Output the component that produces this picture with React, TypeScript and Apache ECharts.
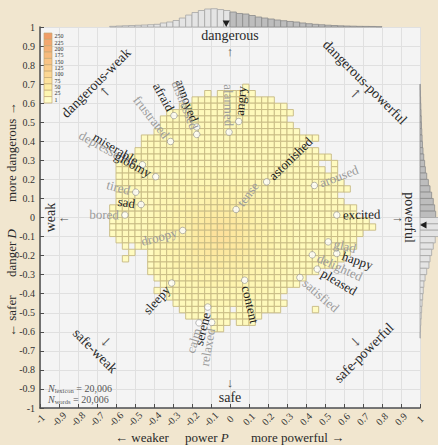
import React, { useEffect, useRef } from 'react';
import * as echarts from 'echarts';

const FONT = "'Liberation Serif', 'DejaVu Serif', serif";

// ---- 2D histogram (60 x 60 bins on [-1,1]^2, bin width 1/30; row 0 = top, col 0 = left)
const BIN = 1 / 30;
const FIRST_ROW = 9;
const ROW_START = [32, 26, 24, 22, 20, 19, 19, 18, 16, 16, 15, 14, 12, 12, 12, 12, 12, 12, 12, 11, 11, 11, 11, 11, 12, 13, 14, 13, 17, 17, 18, 19, 18, 20, 21, 22, 23, 27, 27];
// run-length rows: level char (or '.') optionally followed by *count
const ROW_RUNS = [
  '2',
  '2 . 2 3*4 2',
  '2 3*11 2',
  '2 3*15 2',
  '2 3*18 2',
  '2 3*18 2',
  '2 3*19 2',
  '2 3*21 2',
  '2 3*26 2',
  '2 3*24 2',
  '2 3*27 2',
  '2 3*30 2',
  '2 3*30 2 .*2 2',
  '2 3*12 4*7 3*12 2 . 2',
  '2 3*10 4*11 3*12 2',
  '2 3*8 4*15 3*11 2',
  '2 3*7 4*5 5*7 4*5 3*11 2',
  '2 3*6 4*4 5*11 4*4 3*8 2',
  '2 3*5 4*4 5*4 6*5 5*4 4*4 3*8 2',
  '2 3*6 4*3 5*3 6*4 7 6*4 5*3 4*3 3*10 2',
  '2 3*6 4*3 5*2 6*2 7*7 6*2 5*2 4*3 3*10 2',
  '2 3*5 4*3 5*3 6 7*2 8*5 7*2 6 5*3 4*3 3*11 2',
  '2 3*5 4*3 5*2 6*2 7 8*3 9 8*3 7 6*2 5*2 4*3 3*12 2',
  '2 3*5 4*3 5*2 6*2 7 8*2 9*3 8*2 7 6*2 5*2 4*3 3*10 2',
  '2 3*4 4*3 5*2 6*2 7 8*2 9*3 8*2 7 6*2 5*2 4*3 3*9 2',
  '2 . 2 3 4*3 5*2 6*2 7 8*3 9 8*3 7 6*2 5*2 4*3 3*9 2',
  '2 .*2 2 4*2 5*3 6 7*2 8*5 7*2 6 5*3 4*3 3*8 2',
  '2 .*3 2 4*3 5*2 6*2 7*7 6*2 5*2 4*3 3*8 2',
  '2 4*3 5*3 6*4 7 6*4 5*3 4*3 3*7 2',
  '2 4*4 5*4 6*5 5*4 4*4 3*4 2',
  '2 4*4 5*11 4*4 3*3 2',
  '2 4*5 5*7 4*5 3*3 2',
  '2 . 2 4*15 3*2 2',
  '2 3*2 4*11 3*3 2',
  '2 3*3 4*7 3*6 2',
  '2 3*2 2 . 2 3 2 . 2 3*5 2 .*5 2',
  '2 3 2 . 2 3*6 2',
  '2 3 2 . 2 3 2',
  '2*2',
];
const LEVEL_COUNT = [0, 4, 9, 15, 22, 30, 40, 50, 62, 76];

const COLORBAR_TICKS = [1, 25, 50, 75, 100, 125, 150, 175, 200, 225, 250];
const COLOR_STOPS = ['#fffdc8', '#fef6b1', '#fdeca4', '#fde29c', '#fcd794', '#fbcd8c', '#f9c384', '#f7ba7d', '#f5b076', '#f3a76f', '#f09d68'];

// ---- marginal histograms
const TOP_FIRST_COL = 11;
const TOP_HIST = [45, 65, 85, 100, 115, 135, 155, 180, 270, 335, 435, 600, 800, 970, 1105, 1205, 1225, 1170, 1105, 1005, 905, 870, 770, 670, 600, 535, 470, 420, 370, 335, 270, 220, 180, 150, 120, 100, 80, 65, 55, 45, 40, 35, 20];
const RIGHT_FIRST_ROW = 9;
const RIGHT_HIST = [15, 25, 40, 55, 70, 85, 100, 120, 140, 165, 200, 250, 310, 360, 450, 560, 670, 780, 890, 980, 1050, 1250, 1350, 1250, 1020, 890, 780, 670, 600, 450, 340, 260, 220, 180, 140, 110, 80, 55, 35, 20];
const TOP_AXIS_MAX = 1809;
const RIGHT_AXIS_MAX = 1206;
const MEAN_P = -0.02;
const MEAN_D = -0.04;

// ---- words
const WORDS = ['afraid', 'annoyed', 'distressed', 'frustrated', 'alarmed', 'angry', 'miserable', 'depressed', 'gloomy', 'tired', 'sad', 'bored', 'droopy', 'tense', 'astonished', 'aroused', 'excited', 'glad', 'happy', 'delighted', 'pleased', 'satisfied', 'content', 'sleepy', 'serene', 'calm', 'relaxed'];
const WORD_P = [-0.295, -0.175, -0.175, -0.313, -0.005, 0.046, -0.461, -0.526, -0.391, -0.496, -0.468, -0.553, -0.249, 0.032, 0.193, 0.444, 0.562, 0.517, 0.562, 0.433, 0.459, 0.368, 0.077, -0.307, -0.117, -0.163, -0.096];
const WORD_D = [0.535, 0.475, 0.436, 0.399, 0.448, 0.504, 0.277, 0.292, 0.214, 0.133, 0.068, 0.013, -0.068, 0.042, 0.187, 0.168, 0.013, -0.128, -0.189, -0.196, -0.271, -0.315, -0.329, -0.344, -0.47, -0.553, -0.551];
const WORD_DARK = [true, true, false, false, false, true, true, false, true, false, true, false, false, false, true, false, true, false, true, false, true, false, true, true, true, false, false];

const DIR_TEXT = ['dangerous', 'safe', 'weak', 'powerful', 'dangerous-weak', 'dangerous-powerful', 'safe-weak', 'safe-powerful'];
const DIR_P = [0, 0, -0.947, 0.947, -0.705, 0.71, -0.71, 0.705];
const DIR_D = [0.955, -0.945, 0, 0, 0.707, 0.71, -0.7, -0.71];
const DIR_ROT = [0, 0, 90, -90, 45, -45, -45, 45];
const ARROW_TEXT = ['↑', '↓', '←', '→', '↖', '↗', '↙', '↘'];
const ARROW_P = [0, 0, -0.874, 0.88, -0.658, 0.66, -0.653, 0.66];
const ARROW_D = [0.87, -0.865, 0, 0, 0.66, 0.65, -0.651, -0.65];

const N_LEXICON = '20,006';
const N_WORDS = '20,006';

function buildCells(): number[][] {
  const cells: number[][] = [];
  ROW_RUNS.forEach((runs, r) => {
    const row = FIRST_ROW + r;
    let col = ROW_START[r];
    runs.split(' ').forEach((tok) => {
      const parts = tok.split('*');
      const n = parts[1] ? parseInt(parts[1], 10) : 1;
      for (let k = 0; k < n; k++) {
        if (parts[0] !== '.') {
          cells.push([-1 + (col + 0.5) * BIN, 1 - (row + 0.5) * BIN, LEVEL_COUNT[parseInt(parts[0], 10)]]);
        }
        col++;
      }
    });
  });
  return cells;
}

const fmt = (v: number) => String(Math.round(v * 10) / 10);
const font = (size: number, style = 'normal') => `${style} normal ${size}px ${FONT}`;

function buildOption(): any {
  const cells = buildCells();
  const topData = TOP_HIST.map((v, i) => [-1 + (TOP_FIRST_COL + i + 0.5) * BIN, v]);
  const rightData = RIGHT_HIST.map((v, i) => [v, 1 - (RIGHT_FIRST_ROW + i + 0.5) * BIN]);
  return {
    animation: false,
    backgroundColor: '#f1e6cf',
    textStyle: { fontFamily: FONT },
    grid: [
      { left: 40, right: 18, top: 27, bottom: 37, show: true, backgroundColor: '#f4f4f4', borderWidth: 0 },
      { left: 40, right: 18, top: 0, height: 27 },
      { left: 420, right: 0, top: 27, bottom: 37 },
    ],
    xAxis: [
      {
        gridIndex: 0, type: 'value', min: -1, max: 1, interval: 0.1,
        axisLine: { onZero: false, lineStyle: { color: '#4d4d4d', width: 1.5 } },
        axisTick: { inside: true, length: 4, lineStyle: { color: '#4d4d4d' } },
        axisLabel: { rotate: 45, fontSize: 10, fontFamily: FONT, color: '#333', margin: 11, align: 'center', verticalAlign: 'middle', formatter: fmt },
        splitLine: { show: true, lineStyle: { color: '#e0e0e0', width: 1 } },
      },
      { gridIndex: 1, type: 'value', min: -1, max: 1, show: false },
      { gridIndex: 2, type: 'value', min: 0, max: RIGHT_AXIS_MAX, show: false },
    ],
    yAxis: [
      {
        gridIndex: 0, type: 'value', min: -1, max: 1, interval: 0.1,
        axisLine: { show: true, onZero: false, lineStyle: { color: '#4d4d4d', width: 1.5 } },
        axisTick: { show: true, inside: true, length: 4, lineStyle: { color: '#4d4d4d' } },
        axisLabel: { fontSize: 10, fontFamily: FONT, color: '#333', margin: 5, formatter: fmt },
        splitLine: { show: true, lineStyle: { color: '#e0e0e0', width: 1 } },
      },
      { gridIndex: 1, type: 'value', min: 0, max: TOP_AXIS_MAX, show: false },
      { gridIndex: 2, type: 'value', min: -1, max: 1, show: false },
    ],
    visualMap: {
      type: 'continuous', show: false, min: 1, max: 250, dimension: 2, seriesIndex: 0,
      inRange: { color: COLOR_STOPS },
    },
    series: [
      {
        type: 'custom', xAxisIndex: 0, yAxisIndex: 0, data: cells, encode: { x: 0, y: 1 }, z: 2,
        renderItem: (params: any, api: any) => {
          const x = api.value(0);
          const y = api.value(1);
          const p0 = api.coord([x - BIN / 2, y + BIN / 2]);
          const p1 = api.coord([x + BIN / 2, y - BIN / 2]);
          return {
            type: 'rect',
            shape: { x: p0[0], y: p0[1], width: p1[0] - p0[0], height: p1[1] - p0[1] },
            style: { fill: api.visual('color'), stroke: '#c6b982', lineWidth: 0.9 },
          };
        },
      },
      {
        type: 'custom', xAxisIndex: 1, yAxisIndex: 1, data: topData, encode: { x: 0, y: 1 },
        renderItem: (params: any, api: any) => {
          const x = api.value(0);
          const v = api.value(1);
          const p0 = api.coord([x - BIN / 2, v]);
          const p1 = api.coord([x + BIN / 2, 0]);
          const dark = x > 0;
          return {
            type: 'rect',
            shape: { x: p0[0], y: p0[1], width: p1[0] - p0[0], height: p1[1] - p0[1] },
            style: { fill: dark ? '#bdbdbd' : '#e4e4e4', stroke: dark ? '#8c8c8c' : '#a6a6a6', lineWidth: 0.8 },
          };
        },
      },
      {
        type: 'custom', xAxisIndex: 2, yAxisIndex: 2, data: rightData, encode: { x: 0, y: 1 },
        renderItem: (params: any, api: any) => {
          const v = api.value(0);
          const y = api.value(1);
          const p0 = api.coord([0, y + BIN / 2]);
          const p1 = api.coord([v, y - BIN / 2]);
          const dark = y > 0;
          return {
            type: 'rect',
            shape: { x: p0[0], y: p0[1], width: p1[0] - p0[0], height: p1[1] - p0[1] },
            style: { fill: dark ? '#bdbdbd' : '#e4e4e4', stroke: dark ? '#8c8c8c' : '#a6a6a6', lineWidth: 0.8 },
          };
        },
      },
      {
        type: 'scatter', xAxisIndex: 0, yAxisIndex: 0, z: 5,
        data: WORDS.map((w, i) => ({ name: w, value: [WORD_P[i], WORD_D[i]] })),
        symbol: 'circle', symbolSize: 6.5,
        itemStyle: { color: '#ffffff', borderColor: '#8f8f8f', borderWidth: 0.8 },
      },
    ],
  };
}

function buildGraphic(chart: any): any[] {
  const els: any[] = [];
  const toPx = (p: number, d: number) => chart.convertToPixel({ gridIndex: 0 }, [p, d]) as number[];
  const c = toPx(0, 0);

  WORDS.forEach((w, i) => {
    const p = toPx(WORD_P[i], WORD_D[i]);
    const th = Math.atan2(c[1] - p[1], p[0] - c[0]);
    const right = WORD_P[i] >= 0;
    const rot = right ? th : th > 0 ? th - Math.PI : th + Math.PI;
    const gap = 6;
    els.push({
      type: 'text', x: p[0] + gap * Math.cos(th), y: p[1] - gap * Math.sin(th), rotation: rot, z: 60,
      style: {
        text: w, font: font(13), fill: WORD_DARK[i] ? '#1c1c1c' : '#9b9b9b',
        align: right ? 'left' : 'right', verticalAlign: 'middle',
      },
    });
  });

  DIR_TEXT.forEach((t, i) => {
    const p = toPx(DIR_P[i], DIR_D[i]);
    els.push({
      type: 'text', x: p[0], y: p[1], rotation: (DIR_ROT[i] * Math.PI) / 180, z: 60,
      style: { text: t, font: font(14), fill: '#2a2a2a', align: 'center', verticalAlign: 'middle' },
    });
  });
  ARROW_TEXT.forEach((t, i) => {
    const p = toPx(ARROW_P[i], ARROW_D[i]);
    els.push({
      type: 'text', x: p[0], y: p[1], z: 60,
      style: { text: t, font: font(13), fill: '#555', align: 'center', verticalAlign: 'middle' },
    });
  });

  // mean markers on the marginal histograms
  const t = toPx(MEAN_P, 1);
  els.push({ type: 'polygon', z: 60, shape: { points: [[t[0] - 3.5, t[1] - 6.5], [t[0] + 3.5, t[1] - 6.5], [t[0], t[1]]] }, style: { fill: '#1e1e1e' } });
  const r = toPx(1, MEAN_D);
  els.push({ type: 'polygon', z: 60, shape: { points: [[r[0], r[1]], [r[0] + 6.5, r[1] - 3.5], [r[0] + 6.5, r[1] + 3.5]] }, style: { fill: '#1e1e1e' } });

  // colour bar
  const cbTop = 33;
  const cbH = 6.36;
  const nb = COLORBAR_TICKS.length;
  for (let k = 0; k < nb; k++) {
    const idx = nb - 1 - k;
    els.push({
      type: 'rect', z: 60,
      shape: { x: 44, y: cbTop + k * cbH, width: 8, height: cbH },
      style: { fill: COLOR_STOPS[idx], stroke: '#c4a874', lineWidth: 0.7 },
    });
    els.push({
      type: 'text', z: 60, x: 54.5, y: cbTop + k * cbH + cbH / 2,
      style: { text: String(COLORBAR_TICKS[idx]), font: font(6), fill: '#333', align: 'left', verticalAlign: 'middle' },
    });
  }

  // counts
  const rich = {
    i: { fontStyle: 'italic', fontSize: 10, fontFamily: FONT, fill: '#555' },
    s: { fontSize: 6.5, fontFamily: FONT, fill: '#555', padding: [5, 0, 0, 0] },
    t: { fontSize: 10, fontFamily: FONT, fill: '#555' },
  };
  els.push({ type: 'text', z: 60, x: 48, y: 388, style: { text: '{i|N}{s|lexicon}{t| = ' + N_LEXICON + '}', rich, align: 'left', verticalAlign: 'middle' } });
  els.push({ type: 'text', z: 60, x: 48, y: 399, style: { text: '{i|N}{s|words}{t| = ' + N_WORDS + '}', rich, align: 'left', verticalAlign: 'middle' } });

  // axis titles
  const ar = {
    a: { fontSize: 13, fontFamily: FONT, fill: '#2a2a2a' },
    b: { fontSize: 13, fontFamily: FONT, fill: '#2a2a2a', fontStyle: 'italic' },
  };
  els.push({ type: 'text', z: 60, x: 115, y: 437.5, style: { text: '{a|← weaker}', rich: ar, align: 'left', verticalAlign: 'middle' } });
  els.push({ type: 'text', z: 60, x: 185, y: 437.5, style: { text: '{a|power }{b|P}', rich: ar, align: 'left', verticalAlign: 'middle' } });
  els.push({ type: 'text', z: 60, x: 251, y: 437.5, style: { text: '{a|more powerful →}', rich: ar, align: 'left', verticalAlign: 'middle' } });
  els.push({ type: 'text', z: 60, x: 11, y: 337, rotation: Math.PI / 2, style: { text: '{a|← safer}', rich: ar, align: 'left', verticalAlign: 'middle' } });
  els.push({ type: 'text', z: 60, x: 11, y: 277, rotation: Math.PI / 2, style: { text: '{a|danger }{b|D}', rich: ar, align: 'left', verticalAlign: 'middle' } });
  els.push({ type: 'text', z: 60, x: 11, y: 202, rotation: Math.PI / 2, style: { text: '{a|more dangerous →}', rich: ar, align: 'left', verticalAlign: 'middle' } });

  return els;
}

export default function App() {
  const ref = useRef<HTMLDivElement>(null);
  useEffect(() => {
    const chart = echarts.init(ref.current as HTMLDivElement, null, { renderer: 'svg' });
    chart.setOption(buildOption());
    chart.setOption({ graphic: buildGraphic(chart) });
    return () => chart.dispose();
  }, []);
  return <div ref={ref} style={{ position: 'fixed', left: 0, top: 0, width: 438, height: 445 }} />;
}
